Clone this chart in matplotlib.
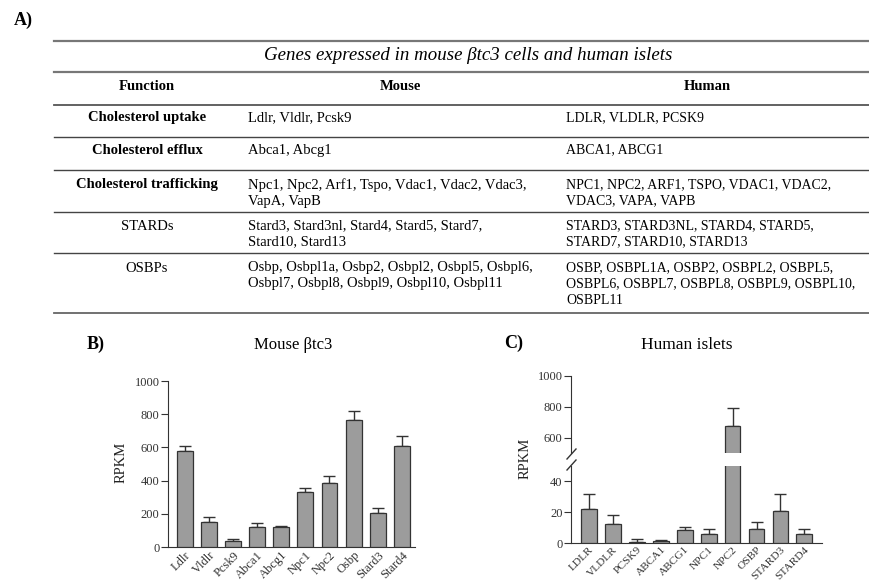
import matplotlib
matplotlib.use("Agg")
import matplotlib.pyplot as plt
from matplotlib.lines import Line2D

plt.rcParams['font.family'] = ['Liberation Serif', 'DejaVu Serif']

# ---- table data ----
table_title = "Genes expressed in mouse βtc3 cells and human islets"
headers = ["Function", "Mouse", "Human"]
functions = ["Cholesterol uptake", "Cholesterol efflux", "Cholesterol trafficking", "STARDs", "OSBPs"]
function_bold = [True, True, True, False, False]
mouse_genes = [
    ["Ldlr, Vldlr, Pcsk9"],
    ["Abca1, Abcg1"],
    ["Npc1, Npc2, Arf1, Tspo, Vdac1, Vdac2, Vdac3,", "VapA, VapB"],
    ["Stard3, Stard3nl, Stard4, Stard5, Stard7,", "Stard10, Stard13"],
    ["Osbp, Osbpl1a, Osbp2, Osbpl2, Osbpl5, Osbpl6,", "Osbpl7, Osbpl8, Osbpl9, Osbpl10, Osbpl11"],
]
human_genes = [
    ["LDLR, VLDLR, PCSK9"],
    ["ABCA1, ABCG1"],
    ["NPC1, NPC2, ARF1, TSPO, VDAC1, VDAC2,", "VDAC3, VAPA, VAPB"],
    ["STARD3, STARD3NL, STARD4, STARD5,", "STARD7, STARD10, STARD13"],
    ["OSBP, OSBPL1A, OSBP2, OSBPL2, OSBPL5,", "OSBPL6, OSBPL7, OSBPL8, OSBPL9, OSBPL10,", "OSBPL11"],
]

# ---- bar chart data ----
mouse_labels = ["Ldlr", "Vldlr", "Pcsk9", "Abca1", "Abcg1", "Npc1", "Npc2", "Osbp", "Stard3", "Stard4"]
mouse_rpkm = [580, 152, 38, 120, 118, 333, 388, 765, 202, 610]
mouse_err = [30, 28, 10, 25, 9, 22, 37, 55, 31, 60]

human_labels = ["LDLR", "VLDLR", "PCSK9", "ABCA1", "ABCG1", "NPC1", "NPC2", "OSBP", "STARD3", "STARD4"]
human_rpkm = [22, 12.3, 0.8, 1.0, 8.6, 6.0, 675, 9.2, 20.6, 5.6]
human_err = [10, 5.7, 1.7, 1.2, 2.0, 3.0, 115, 4.3, 11.4, 3.4]

W, H = 870, 581
fig = plt.figure(figsize=(W / 100, H / 100), dpi=100)


def fx(x):
    return x / W


def fy(y):
    return 1 - y / H


def hline(y, x0=54, x1=870, lw=1.0, color='#444444'):
    fig.add_artist(Line2D([fx(x0), fx(x1)], [fy(y), fy(y)], lw=lw, color=color))


def px_axes(left, top, right, bottom):
    return fig.add_axes([fx(left), fy(bottom), (right - left) / W, (bottom - top) / H])


# ---- panel A: table ----
table_fs = 10.5
human_fs = 10.0
fig.text(fx(14), fy(20), "A)", fontsize=13, fontweight='bold', va='center')
hline(41, lw=1.6, color='#777777')
fig.text(fx(468), fy(56), table_title, fontsize=13.6, style='italic', ha='center', va='center')
hline(72, lw=1.6, color='#777777')
for hx, h in zip([147, 400, 707], headers):
    fig.text(fx(hx), fy(86), h, fontsize=table_fs, fontweight='bold', ha='center', va='center')
hline(105, lw=1.3, color='#555555')

row_tops = [118, 150, 185, 226, 268]
row_lines = [137, 170, 212, 253]
line_step = 16
for i, func in enumerate(functions):
    y0 = row_tops[i]
    fig.text(fx(147), fy(y0), func, fontsize=table_fs, ha='center', va='center',
             fontweight='bold' if function_bold[i] else 'normal')
    for j, t in enumerate(mouse_genes[i]):
        fig.text(fx(248), fy(y0 + j * line_step), t, fontsize=table_fs, va='center')
    for j, t in enumerate(human_genes[i]):
        fig.text(fx(566), fy(y0 + j * line_step), t, fontsize=human_fs, va='center')
for y in row_lines:
    hline(y)
hline(313, lw=1.3, color='#666666')

bar_color = '#9c9c9c'
edge_color = '#333333'
tick_fs = 9


def draw_bars(ax, vals, errs):
    x = list(range(len(vals)))
    ax.bar(x, vals, width=0.66, color=bar_color, edgecolor=edge_color, linewidth=0.9, zorder=3)
    ax.errorbar(x, vals, yerr=[[0] * len(errs), errs], fmt='none', ecolor=edge_color,
                elinewidth=1.0, capsize=4, capthick=1.0, zorder=2)


def style_axes(ax, xtick_fs):
    for s in ['top', 'right']:
        ax.spines[s].set_visible(False)
    ax.spines['left'].set_color('#333333')
    ax.spines['bottom'].set_color('#333333')
    ax.tick_params(axis='y', direction='out', length=5, width=0.8, color='#333333',
                   labelsize=tick_fs, pad=1, labelcolor='#333333')
    ax.tick_params(axis='x', length=0, labelsize=xtick_fs, pad=1.5, labelcolor='#333333')
    ax.patch.set_alpha(0)


# ---- panel B ----
fig.text(fx(87), fy(344), "B)", fontsize=13, fontweight='bold', va='center')
fig.text(fx(293), fy(345), "Mouse βtc3", fontsize=12, ha='center', va='center')
axB = px_axes(168, 381, 415, 547)
draw_bars(axB, mouse_rpkm, mouse_err)
axB.set_ylim(0, 1000)
axB.set_xlim(-0.7, 9.55)
axB.set_yticks([0, 200, 400, 600, 800, 1000])
axB.set_xticks(range(len(mouse_labels)))
axB.set_xticklabels(mouse_labels, rotation=45, ha='right', rotation_mode='anchor')
style_axes(axB, 9)
fig.text(fx(121), fy(462), "RPKM", fontsize=10.5, rotation=90, ha='center', va='center', color='#222222')

# ---- panel C (broken axis) ----
fig.text(fx(504), fy(343), "C)", fontsize=13, fontweight='bold', va='center')
fig.text(fx(687), fy(345), "Human islets", fontsize=12.5, ha='center', va='center')
axCu = px_axes(571, 376, 822, 453)
axCl = px_axes(571, 466, 822, 543)
for ax in (axCu, axCl):
    draw_bars(ax, human_rpkm, human_err)
    ax.set_xlim(-0.76, 9.74)
    style_axes(ax, 8.2)
axCu.set_ylim(500, 1000)
axCu.set_yticks([600, 800, 1000])
axCu.spines['bottom'].set_visible(False)
axCu.set_xticks([])
axCl.set_ylim(0, 50)
axCl.set_yticks([0, 20, 40])
axCl.set_xticks(range(len(human_labels)))
axCl.set_xticklabels(human_labels, rotation=45, ha='right', rotation_mode='anchor')

# break marks on the y axis
for yb in (454, 465):
    fig.add_artist(Line2D([fx(567), fx(576)], [fy(yb + 5), fy(yb - 5)], lw=1.0, color='#333333'))

fig.text(fx(525), fy(458), "RPKM", fontsize=10.5, rotation=90, ha='center', va='center', color='#222222')

fig.savefig("out.png", dpi=100)
